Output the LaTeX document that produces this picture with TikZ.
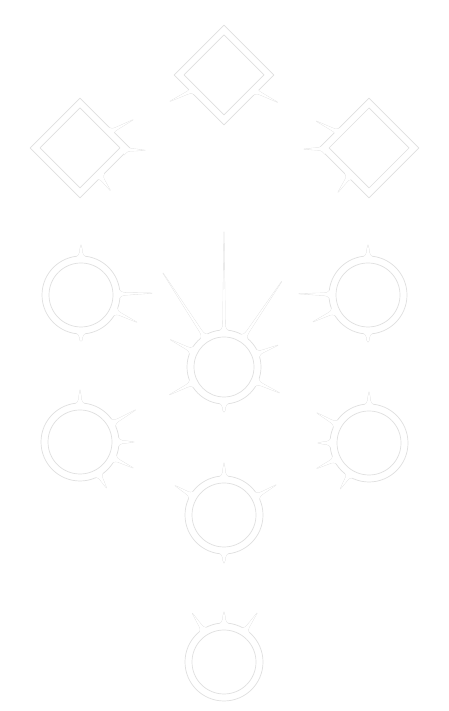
\documentclass[tikz,border=0pt]{standalone}
\usetikzlibrary{shapes.geometric}
\definecolor{ghost}{HTML}{E0E0E0}
\pgfdeclarelayer{back}
\pgfsetlayers{back,main}
% one thorn: node, angle, base distance, tip distance
\newcommand{\spike}[4]{%
  \begin{pgfonlayer}{back}
    \draw[ghostline, shift={(#1.center)}, rotate=#2]
      (#3,-5.5) .. controls (#3+3.5,-1.6) .. (#3+8,-1.2) -- (#4,0)
      -- (#3+8,1.2) .. controls (#3+3.5,1.6) .. (#3,5.5);
  \end{pgfonlayer}
  \fill[white, shift={(#1.center)}, rotate=#2]
    (#3,-5.5) .. controls (#3+3.5,-1.6) .. (#3+8,-1.2) -- (#4,0)
    -- (#3+8,1.2) .. controls (#3+3.5,1.6) .. (#3,5.5) -- cycle;
}

\begin{document}
\begin{tikzpicture}[
  x=1pt, y=1pt,
  ghostline/.style={draw=ghost, line width=0.7pt, line join=round},
  ring/.style={circle, ghostline, fill=white, minimum size=78, inner sep=0},
  gem/.style={diamond, ghostline, fill=white, minimum width=100, minimum height=100, inner sep=0}
]
\useasboundingbox (0,0) rectangle (449,711);
\begin{pgfonlayer}{back}
  \fill[white] (0,0) rectangle (449,711);
\end{pgfonlayer}

% diamonds
\node[gem] (dtop) at (224,636) {};
\node[gem] (dleft) at (80,563) {};
\node[gem] (dright) at (369,563) {};
% rings
\node[ring] (cul) at (81,416) {};
\node[ring] (cur) at (368,416) {};
\node[ring, minimum size=74] (cmid) at (224,344) {};
\node[ring] (cll) at (80,269) {};
\node[ring] (clr) at (369,268) {};
\node[ring] (clow) at (224,196) {};
\node[ring] (cbot) at (224,49) {};

% thorns
\foreach \n/\b/\l in {
    dtop/34/{206/60,333/60},
    dleft/34/{28/60,305.5/52}, dleft/44/{358/65},
    dright/34/{153/59,235/54}, dright/44/{181/65},
    cul/37/{90/50,270/46,1.5/71,334/62},
    cur/37/{90/50,270/47,179/69,206/61},
    cmid/35/{90/135,123/112,56/103,153/60,22/58,207/61,335/61,270/45},
    cll/37/{90/52,30/64,0/54,334/59,300/53},
    clr/37/{90/51,150/60,180/51,206/58,238/54},
    clow/37/{90/52,149/57,30/60,270/48},
    cbot/37/{90/50,123/58,56/59}}
  {\foreach \a/\t in \l {\spike{\n}{\a}{\b}{\t}}}

% inner outlines
\foreach \n in {cul,cur,cll,clr,clow,cbot}
  \draw[ghostline] (\n.center) circle[radius=32];
\draw[ghostline] (cmid.center) circle[radius=30];
\foreach \n in {dtop,dleft,dright}
  \draw[ghostline] (\n.center) ++(0,40) -- ++(40,-40) -- ++(-40,-40) -- ++(-40,40) -- cycle;
\end{tikzpicture}
\end{document}
